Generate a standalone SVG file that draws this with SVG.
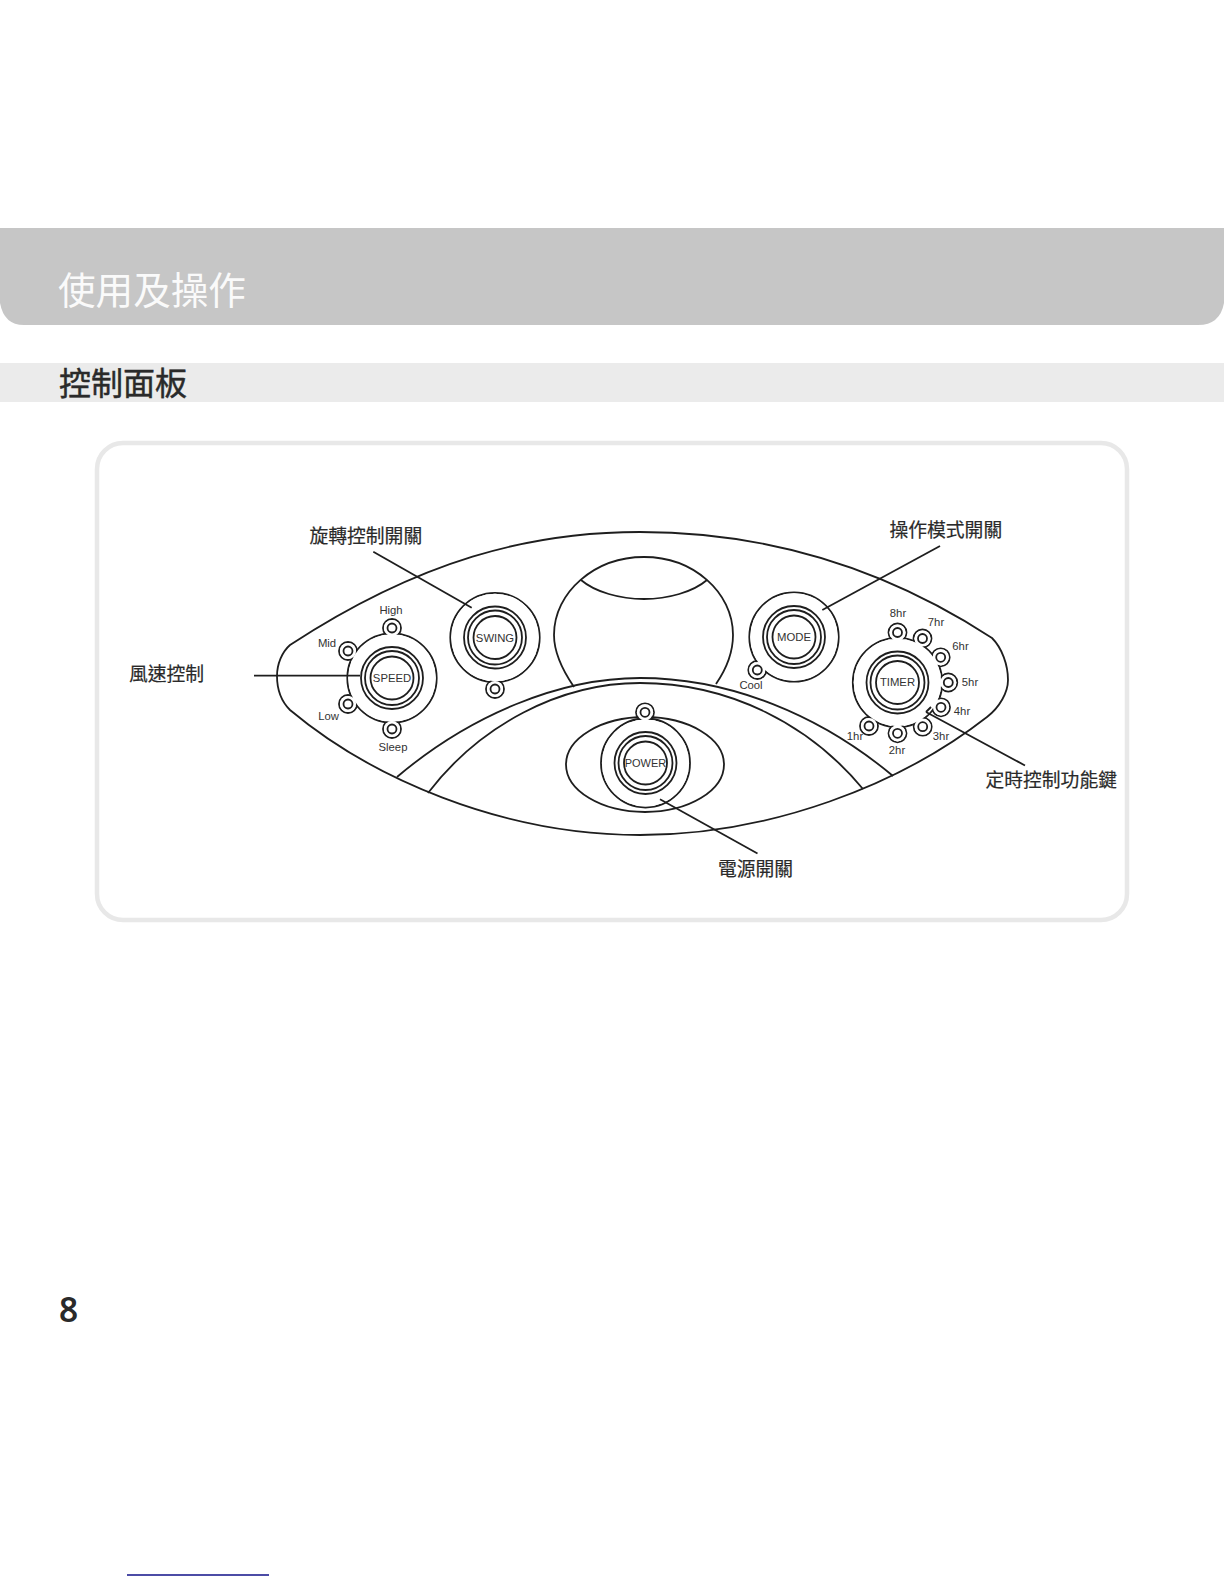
<svg xmlns="http://www.w3.org/2000/svg" width="1224" height="1584" viewBox="0 0 1224 1584">
<style>
.l{fill:none;stroke:#1e1e1e;stroke-width:1.8}
.o{fill:#fff;stroke:#1e1e1e;stroke-width:1.8}
.w{fill:#fff;stroke:none}
.c{font-family:"Noto Sans CJK TC","Noto Sans CJK SC",sans-serif;font-size:18.8px;fill:#2a2a2a;stroke:#2a2a2a;stroke-width:.2}
.s{font-family:"Liberation Sans",Arial,sans-serif;font-size:11.3px;fill:#333;text-anchor:middle}
</style>
<rect width="1224" height="1584" fill="#fff"/>
<path id="band" d="M0 228H1224V303Q1220 325 1198 325H24Q4 325 0 303Z" fill="#c6c6c6"/>
<rect id="strip" x="0" y="363" width="1224" height="39" fill="#ebebeb"/>
<text x="58" y="304" style="font-family:'Noto Sans CJK TC','Noto Sans CJK SC',sans-serif;font-size:37.6px;fill:#fafafa;font-weight:400">使用及操作</text>
<text x="59" y="395" style="font-family:'Noto Sans CJK TC','Noto Sans CJK SC',sans-serif;font-size:32px;fill:#2a2a2a;font-weight:400;stroke:#2a2a2a;stroke-width:.45">控制面板</text>
<rect id="panel" x="97" y="443" width="1030" height="477" rx="26" fill="#fff" stroke="#e8e8e8" stroke-width="4.5"/>
<g id="body">
<path class="o" d="M290 645C420 560 530 532 640 532C760 532 880 565 992 638C1002 648 1008 665 1008 680C1008 692 1000 707 987 717C900 785 770 835 640 835C500 835 370 777 290 710C282 702 277 690 277 676C277 664 282 652 290 645Z"/>
<path class="l" d="M574 687C561 668 554 652 554 635C554 592 595 557 644 557C693 557 733 592 733 635C733 652 727 668 716 684"/>
<path class="l" d="M581 580C595 592 620 599 644 599C668 599 693 592 707 580"/>
<path class="l" d="M397 777C470 715 560 678 640 678C730 678 820 715 893 776"/>
<path class="l" d="M428 793C480 725 560 683 640 683C730 683 810 725 863 789"/>
</g>
<g id="power">
<ellipse class="l" cx="645" cy="764.5" rx="79" ry="47.5"/>
<circle class="l" cx="645.5" cy="763" r="44.5"/><circle class="l" cx="645" cy="712.3" r="9"/>
<circle class="w" cx="645.5" cy="763" r="43.6"/><circle class="w" cx="645" cy="712.3" r="8.1"/>
<circle class="l" cx="645" cy="712.3" r="4.5"/>
<circle class="l" cx="645.5" cy="763" r="31"/><circle class="l" cx="645.5" cy="763" r="27"/><circle class="l" cx="645.5" cy="763" r="21.5"/>
<text class="s" x="645.5" y="767" style="font-size:11px">POWER</text>
</g>
<g id="speed">
<circle class="l" cx="392" cy="678" r="44.7"/>
<circle class="l" cx="392" cy="628" r="9"/><circle class="l" cx="348" cy="651" r="9"/><circle class="l" cx="348" cy="704" r="9"/><circle class="l" cx="392" cy="729" r="9"/>
<circle class="w" cx="392" cy="678" r="43.8"/>
<circle class="w" cx="392" cy="628" r="8.1"/><circle class="w" cx="348" cy="651" r="8.1"/><circle class="w" cx="348" cy="704" r="8.1"/><circle class="w" cx="392" cy="729" r="8.1"/>
<circle class="l" cx="392" cy="628" r="4.5"/><circle class="l" cx="348" cy="651" r="4.5"/><circle class="l" cx="348" cy="704" r="4.5"/><circle class="l" cx="392" cy="729" r="4.5"/>
<circle class="l" cx="392" cy="678" r="31"/><circle class="l" cx="392" cy="678" r="27"/><circle class="l" cx="392" cy="678" r="21.5"/>
<text class="s" x="392" y="682">SPEED</text>
<text class="s" x="391" y="614">High</text><text class="s" x="327" y="647">Mid</text><text class="s" x="328.5" y="720">Low</text><text class="s" x="393" y="751">Sleep</text>
</g>
<g id="swing">
<circle class="l" cx="495" cy="637.5" r="44.7"/><circle class="l" cx="495" cy="689" r="9"/>
<circle class="w" cx="495" cy="637.5" r="43.8"/><circle class="w" cx="495" cy="689" r="8.1"/>
<circle class="l" cx="495" cy="689" r="4.5"/>
<circle class="l" cx="495" cy="637.5" r="31"/><circle class="l" cx="495" cy="637.5" r="27"/><circle class="l" cx="495" cy="637.5" r="21.5"/>
<text class="s" x="495" y="642">SWING</text>
</g>
<g id="mode">
<circle class="l" cx="794" cy="637" r="44.7"/><circle class="l" cx="757.3" cy="670" r="9"/>
<circle class="w" cx="794" cy="637" r="43.8"/><circle class="w" cx="757.3" cy="670" r="8.1"/>
<circle class="l" cx="757.3" cy="670" r="4.5"/>
<circle class="l" cx="794" cy="637" r="31"/><circle class="l" cx="794" cy="637" r="27"/><circle class="l" cx="794" cy="637" r="21.5"/>
<text class="s" x="794" y="641">MODE</text>
<text class="s" x="751" y="689">Cool</text>
</g>
<g id="timer">
<circle class="l" cx="897.5" cy="682.5" r="44.7"/>
<circle class="l" cx="897.5" cy="632.5" r="9"/><circle class="l" cx="922.5" cy="638.5" r="9"/><circle class="l" cx="940.7" cy="657.3" r="9"/><circle class="l" cx="948.3" cy="682.5" r="9"/><circle class="l" cx="941" cy="707.3" r="9"/><circle class="l" cx="922.7" cy="726.7" r="9"/><circle class="l" cx="897.5" cy="733.3" r="9"/><circle class="l" cx="869" cy="726" r="9"/>
<circle class="w" cx="897.5" cy="682.5" r="43.8"/>
<circle class="w" cx="897.5" cy="632.5" r="8.1"/><circle class="w" cx="922.5" cy="638.5" r="8.1"/><circle class="w" cx="940.7" cy="657.3" r="8.1"/><circle class="w" cx="948.3" cy="682.5" r="8.1"/><circle class="w" cx="941" cy="707.3" r="8.1"/><circle class="w" cx="922.7" cy="726.7" r="8.1"/><circle class="w" cx="897.5" cy="733.3" r="8.1"/><circle class="w" cx="869" cy="726" r="8.1"/>
<circle class="l" cx="897.5" cy="632.5" r="4.5"/><circle class="l" cx="922.5" cy="638.5" r="4.5"/><circle class="l" cx="940.7" cy="657.3" r="4.5"/><circle class="l" cx="948.3" cy="682.5" r="4.5"/><circle class="l" cx="941" cy="707.3" r="4.5"/><circle class="l" cx="922.7" cy="726.7" r="4.5"/><circle class="l" cx="897.5" cy="733.3" r="4.5"/><circle class="l" cx="869" cy="726" r="4.5"/>
<circle class="l" cx="897.5" cy="682.5" r="31"/><circle class="l" cx="897.5" cy="682.5" r="27"/><circle class="l" cx="897.5" cy="682.5" r="21.5"/>
<text class="s" x="897.5" y="686">TIMER</text>
<text class="s" x="898" y="616.5">8hr</text><text class="s" x="936" y="626">7hr</text><text class="s" x="960.5" y="650">6hr</text><text class="s" x="970" y="685.5">5hr</text><text class="s" x="962" y="715">4hr</text><text class="s" x="941" y="740">3hr</text><text class="s" x="897" y="753.5">2hr</text><text class="s" x="855" y="740">1hr</text>
</g>
<g id="connectors">
<path class="l" d="M373.3 551.7L471.7 607.7"/>
<path class="l" d="M254 675.7H360"/>
<path class="l" d="M940 546L822.3 610"/>
<path class="l" d="M926 712L1025 765.5M926 712L931 707"/>
<path class="l" d="M660 799.3L757.5 853.5"/>
</g>
<g id="labels">
<text class="c" x="309.5" y="543">旋轉控制開關</text>
<text class="c" x="889.5" y="537">操作模式開關</text>
<text class="c" x="985.5" y="787">定時控制功能鍵</text>
<text class="c" x="129" y="681">風速控制</text>
<text class="c" x="718" y="875.5">電源開關</text>
</g>
<text x="59" y="1321.5" style="font-family:'Noto Sans',sans-serif;font-size:33.5px;font-weight:600;fill:#2a2a2a">8</text>
<rect id="rule" x="127" y="1574.3" width="142" height="1.4" fill="#000080"/>
</svg>
